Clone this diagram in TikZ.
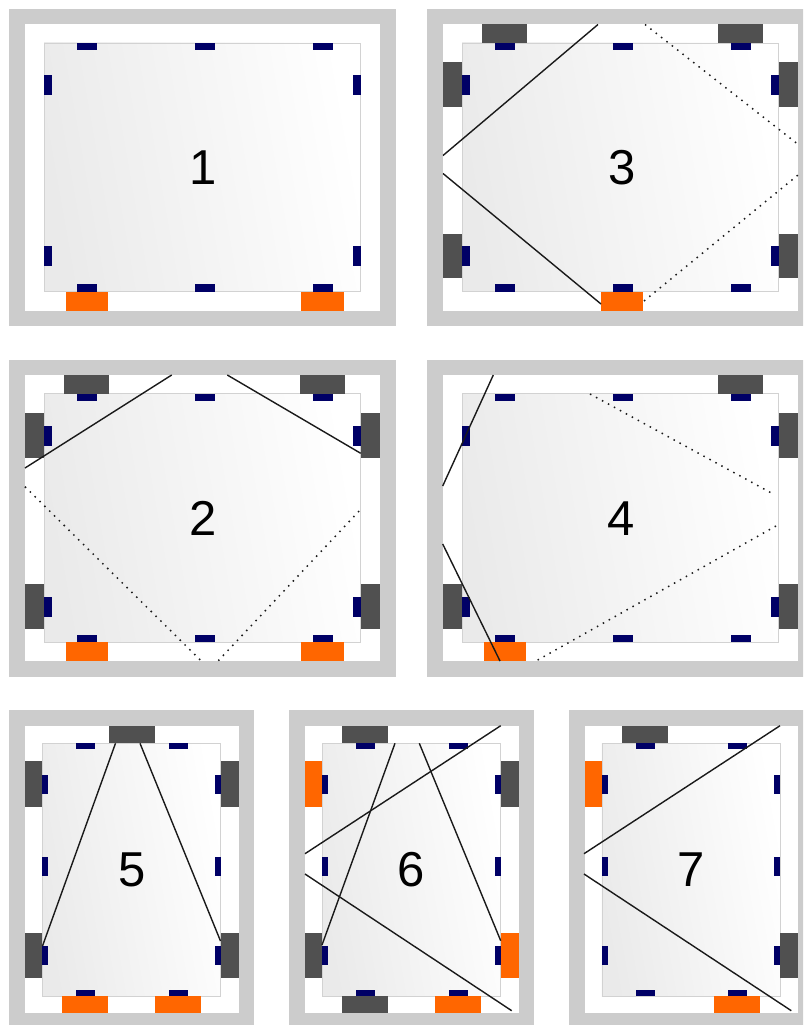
\documentclass[tikz,border=0pt]{standalone}
\usepackage{fontspec}
\setmainfont{Liberation Sans}
\definecolor{framegray}{HTML}{CCCCCC}
\definecolor{panelborder}{HTML}{D2D2D2}
\definecolor{panelleft}{HTML}{EAEAEA}
\definecolor{darkbox}{HTML}{505050}
\definecolor{orangebox}{HTML}{FF6600}
\definecolor{navybox}{HTML}{000066}
\definecolor{beam}{HTML}{1A1A1A}
\tikzset{
  frameband/.style={fill=framegray,draw=none},
  innerwhite/.style={fill=white,draw=none},
  panelface/.style={draw=panelborder,line width=0.6pt,left color=panelleft,right color=white,shading angle=100},
  navy/.style={fill=navybox,draw=none},
  dark/.style={fill=darkbox,draw=none},
  orange/.style={fill=orangebox,draw=none},
  solidbeam/.style={draw=beam,line width=1.4pt},
  dotbeam/.style={draw=beam,line width=1.5pt,dash pattern=on 1.5pt off 5.3pt},
  numlabel/.style={inner sep=0pt,font=\fontsize{49}{49}\selectfont,text=black}
}
% large panel geometry (relative to panel 1)
\newcommand{\bigbase}[2]{%
  \fill[frameband] (9,9) rectangle (395.5,326);
  \fill[innerwhite] (25,24.5) rectangle (380,310.5);
  \path[panelface] (44,43) rectangle (360.5,291.5);
  \foreach \xa in {76.5,194.5,312.5}{
    \fill[navy] (\xa,43) rectangle ++(20,7.5);
    \fill[navy] (\xa,284) rectangle ++(20,7.5);
  }
  \foreach \ya in {75,246}{
    \fill[navy] (44,\ya) rectangle ++(7.5,20);
    \fill[navy] (353,\ya) rectangle ++(7.5,20);
  }
  \node[numlabel] (#1) at (#2,167.5) {#1};
}
\newcommand{\bigTop}[2]{\fill[#2] (#1,24.5) rectangle ++(44.5,18.5);}
\newcommand{\bigBot}[2]{\fill[#2] (#1,291.5) rectangle ++(42.5,19);}
\newcommand{\bigLeft}[2]{\fill[#2] (25,#1) rectangle ++(19,44.5);}
\newcommand{\bigRight}[2]{\fill[#2] (360.5,#1) rectangle ++(19.5,44.5);}
% small panel geometry (relative to panel 5)
\newcommand{\smallbase}[3]{%
  \fill[frameband] (9,710) rectangle (254,1030);
  \fill[innerwhite] (25,726) rectangle (238.5,1012.7);
  \path[panelface] (42.3,743.3) rectangle (220.5,996);
  \foreach \xa in {#2}{
    \fill[navy] (\xa,743.3) rectangle ++(19,5.7);
    \fill[navy] (\xa,990.3) rectangle ++(19,5.7);
  }
  \foreach \ya in {774.7,856.7,946}{
    \fill[navy] (42.3,\ya) rectangle ++(5.7,19);
    \fill[navy] (214.8,\ya) rectangle ++(5.7,19);
  }
  \node[numlabel] (#1) at (#3,870) {#1};
}
\newcommand{\smTop}[2]{\fill[#2] (#1,726) rectangle ++(46,17.3);}
\newcommand{\smBot}[2]{\fill[#2] (#1,996) rectangle ++(46,16.7);}
\newcommand{\smLeft}[2]{\fill[#2] (25,#1) rectangle ++(17.3,45.7);}
\newcommand{\smRight}[2]{\fill[#2] (220.5,#1) rectangle ++(18,45.7);}
\begin{document}
\begin{tikzpicture}[x=1pt,y=-1pt]
\clip (0,0) rectangle (803,1025);
% Panel 1
\bigbase{1}{203}
\bigBot{65.5}{orange}\bigBot{301}{orange}
% Panel 3
\begin{scope}[shift={(418,0)}]
  \bigbase{3}{204.5}
  \bigTop{64}{dark}\bigTop{300}{dark}
  \bigLeft{62.5}{dark}\bigLeft{233.5}{dark}
  \bigRight{62.5}{dark}\bigRight{233.5}{dark}
  \bigBot{182.7}{orange}
\end{scope}
\draw[solidbeam] (443,155.5) -- (598,24.5);
\draw[solidbeam] (443,173.5) -- (601,304);
\draw[dotbeam] (645,24.5) -- (797,143.5);
\draw[dotbeam] (644,301) -- (798,175);
% Panel 2
\begin{scope}[shift={(0,350.7)}]
  \bigbase{2}{202.7}
  \bigTop{64}{dark}\bigTop{300}{dark}
  \bigLeft{62.5}{dark}\bigLeft{233.5}{dark}
  \bigRight{62.5}{dark}\bigRight{233.5}{dark}
  \bigBot{65.5}{orange}\bigBot{301}{orange}
\end{scope}
\draw[solidbeam] (25,468) -- (171.7,375);
\draw[solidbeam] (227.3,375) -- (360.7,453.3);
\draw[dotbeam] (25,486.7) -- (201,660.7);
\draw[dotbeam] (218.3,660.7) -- (360.7,509.3);
% Panel 4
\begin{scope}[shift={(418,350.7)}]
  \bigbase{4}{203}
  \bigTop{300}{dark}
  \bigLeft{233.5}{dark}
  \bigRight{62.5}{dark}\bigRight{233.5}{dark}
  \bigBot{65.5}{orange}
\end{scope}
\draw[solidbeam] (442.7,486) -- (493.3,375);
\draw[solidbeam] (442.7,544) -- (500,661);
\draw[dotbeam] (590,394) -- (775,495);
\draw[dotbeam] (776,526) -- (536,661);
% Panel 5
\smallbase{5}{76,168.5}{132.3}
\smTop{108.7}{dark}
\smLeft{761.3}{dark}\smLeft{932.7}{dark}
\smRight{761.3}{dark}\smRight{932.7}{dark}
\smBot{62.3}{orange}\smBot{155}{orange}
\draw[solidbeam] (42.5,946) -- (115.5,743.3);
\draw[solidbeam] (140,743.3) -- (220.5,941);
% Panel 6
\begin{scope}[shift={(280,0)}]
  \smallbase{6}{76,168.5}{130.7}
  \smTop{62}{dark}
  \smLeft{761.3}{orange}\smLeft{932.7}{dark}
  \smRight{761.3}{dark}\smRight{932.7}{orange}
  \smBot{62}{dark}\smBot{154.5}{orange}
\end{scope}
\draw[solidbeam] (305,853.7) -- (500.7,725.7);
\draw[solidbeam] (305,874) -- (511.7,1010.7);
\draw[solidbeam] (395,743.3) -- (322,945);
\draw[solidbeam] (419.3,743.3) -- (500.7,940.7);
% Panel 7
\begin{scope}[shift={(559.5,0)}]
  \smallbase{7}{76,168.5}{131.2}
  \smTop{62}{dark}
  \smLeft{761.3}{orange}
  \smRight{932.7}{dark}
  \smBot{154.5}{orange}
\end{scope}
\draw[solidbeam] (584,853.7) -- (780,725.7);
\draw[solidbeam] (584,874) -- (791.3,1010.7);
\end{tikzpicture}
\end{document}
